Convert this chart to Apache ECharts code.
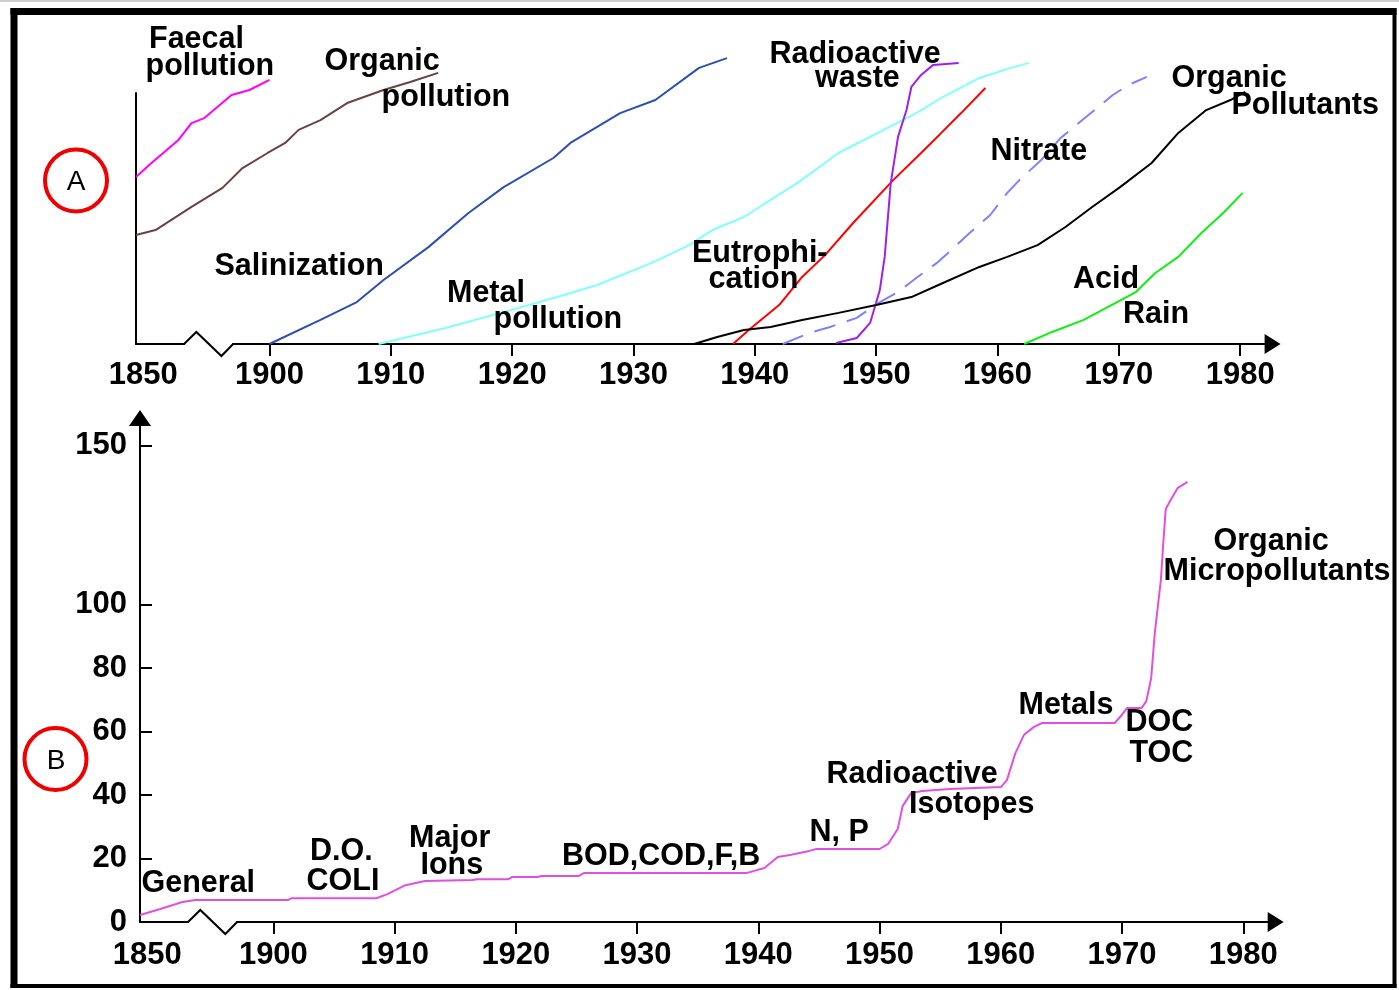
<!DOCTYPE html>
<html><head><meta charset="utf-8">
<script src="https://cdn.jsdelivr.net/npm/echarts@6.0.0/dist/echarts.min.js"></script>
<style>html,body{margin:0;padding:0;background:#fff}#c{width:1399px;height:990px}</style>
</head><body><div id="c"></div>
<script>
// ---------- data (years, relative level) ----------
const tickYears = [1850, 1900, 1910, 1920, 1930, 1940, 1950, 1960, 1970, 1980];
const bTickValues = [0, 20, 40, 60, 80, 100, 150];

// Panel A : problems (relative, unitless)
const faecal = [[1850,66.5],[1855.8,72.1],[1865.9,81.3],[1870.8,88],[1875.6,90],[1885.8,99.2],[1892.5,101.2],[1900,105.2]];
const organicPollution = [[1850,43.4],[1857.3,45.4],[1870.8,54.6],[1882.4,62.2],[1889.9,70.1],[1899.3,76.1],[1901.3,80.1],[1902.4,85.3],[1904.2,89.2],[1906.4,96],[1909.4,101.2],[1911.6,104.4],[1913.9,108]];
const salinization = [[1900,0],[1904.2,9.6],[1907.2,16.7],[1909.4,25.5],[1913.1,38.6],[1916.4,52.2],[1919.3,62.5],[1923.4,74.1],[1924.8,80.1],[1928.9,92],[1931.8,97.2],[1935.4,110],[1937.7,113.9]];
const metalPollution = [[1909,0],[1914.5,6.4],[1919.3,12.7],[1923.7,18.7],[1927,23.5],[1931.5,32.3],[1934.6,39.4],[1936.5,45.4],[1939.1,50.6],[1941.3,57.4],[1943.6,64.5],[1946.9,76.1],[1950.3,84.5],[1953.3,92],[1955.5,98.4],[1958.5,106],[1961.1,110],[1962.6,112]];
const eutrophication = [[1938.2,0],[1939.5,5.6],[1942,15.5],[1943.9,26.7],[1945.8,35.5],[1948.1,48.2],[1951.4,65.3],[1953.7,76.1],[1955.2,83.3],[1957,92],[1959,102]];
const radioactiveWaste = [[1946.7,0.4],[1948.4,2.4],[1949.5,8.4],[1950.3,21.5],[1950.7,34.7],[1951.2,64.1],[1951.8,82.5],[1952.5,93.2],[1952.9,102.4],[1953.7,107.2],[1954.7,111.2],[1956.8,112]];
const nitrate = [[1942.3,0],[1944.5,4.4],[1946.2,6.8],[1948.4,10.4],[1950.3,16.7],[1951.8,20.7],[1953.3,26.3],[1955,32.3],[1956.2,37.5],[1957.7,44.2],[1959.4,51.4],[1960.8,60.2],[1961.8,65.3],[1963.6,73.3],[1965.2,82.1],[1966.5,87.3],[1967.8,92.4],[1969.5,99.2],[1970.8,103.2],[1972.3,106.4]];
const organicPollutants = [[1935,0],[1936.9,2.8],[1939.1,5.6],[1941.3,6.8],[1943.9,9.6],[1946.9,12.4],[1950,15.5],[1952.9,18.7],[1955.5,24.3],[1958.5,30.7],[1960.8,34.7],[1963.3,39.4],[1965.6,46.6],[1967.8,54.6],[1970.1,62.5],[1972.7,72.1],[1974.9,84.1],[1977.2,93.2],[1979.2,97.2],[1980.4,100.4]];
const acidRain = [[1962.2,0],[1964.5,4.8],[1967.1,9.6],[1969.7,16.3],[1971.4,20.7],[1973,28.3],[1974.9,34.7],[1976.8,44.2],[1978.6,52.2],[1980.2,60.2]];

// Panel B : number of parameters
const parameters = [[1850,2.2],[1857.6,4.1],[1865.9,6.3],[1870.8,6.9],[1901.2,6.9],[1901.5,7.5],[1908.5,7.5],[1909.4,8.8],[1910.9,11.6],[1912.5,12.9],[1916.4,13.2],[1916.8,13.5],[1919.4,13.5],[1919.7,14.2],[1921.8,14.2],[1922.1,14.5],[1925.2,14.5],[1925.6,15.4],[1939,15.4],[1940.5,17],[1941.6,20.5],[1942.6,21.1],[1944.2,22.4],[1944.8,23],[1950,23],[1950.7,24.6],[1951.5,29.3],[1951.9,36.5],[1952.6,40.6],[1953.5,41.3],[1955.8,41.9],[1960,42.5],[1960.5,44.7],[1961.2,53.2],[1961.9,58.9],[1962.7,61.4],[1963.4,62.7],[1969.4,62.7],[1969.9,64.9],[1970.4,67.4],[1971.6,67.4],[1972,69.6],[1972.4,76.9],[1972.7,91.1],[1973.2,107.8],[1973.4,119.4],[1973.6,130.1],[1974.1,133.6],[1974.6,136.8],[1975.4,138.7]];

// ---------- broken time axis: 1850-1900 compressed ----------
const BREAK_SCALE = 0.22;
function pos(year) { return year >= 1900 ? year : 1900 - (1900 - year) * BREAK_SCALE; }

// ---------- annotations (layout) ----------
const labelsA = [
  ['Faecal',149,39.5],['pollution',145.5,66.5],['Organic',324.5,61.5],['pollution',381.5,98],
  ['Salinization',214.5,267],['Metal',447,293.5],['pollution',493.5,319.5],
  ['Radioactive',769.5,54.5],['waste',815,79],['Eutrophi-',692,253.5],['cation',708.5,279.5],
  ['Nitrate',990.5,152],['Organic',1171.5,79],['Pollutants',1231.5,106],['Acid',1073,280],['Rain',1123,314.5]
];
const labelsB = [
  ['General',141.5,884],['D.O.',310,852],['COLI',306.5,882],['Major',409,838.7],['Ions',420.5,866],
  ['BOD,COD,F,B',562,857],['N, P',809.5,833],['Radioactive',826.5,774.5],['Isotopes',909,804.5],
  ['Metals',1018.5,705.3],['DOC',1125.5,722.5],['TOC',1129.5,753.5],['Organic',1213.5,542],['Micropollutants',1163.5,572]
];

const FONT = 'Liberation Sans';
const axisText = {color:'#000', fontFamily:FONT, fontWeight:'bold', fontSize:31};
const X_MAX = 1982.67;

function xAxisFor(gridIndex, margin) {
  return {
    type:'value', gridIndex, min:pos(1850), max:X_MAX,
    axisLine:{show:true, onZero:false, lineStyle:{color:'#000', width:2}, symbol:['none','triangle'], symbolSize:[20,16]},
    axisTick:{show:true, customValues:tickYears.filter(y => y >= 1900), length:12, lineStyle:{color:'#000', width:2}},
    axisLabel:{show:true, customValues:tickYears.map(y => y < 1900 ? pos(y) + 0.6 : y),
      formatter:v => v < 1900 ? '1850' : String(Math.round(v)), margin, ...axisText},
    splitLine:{show:false}
  };
}

function lineSeries(name, data, color, grid, extra) {
  return {
    type:'line', name, xAxisIndex:grid, yAxisIndex:grid,
    data:data.map(([y, v]) => [pos(y), v]),
    showSymbol:false, symbol:'none', clip:false, silent:true, smooth:false,
    lineStyle:Object.assign({color, width:2}, extra || {}), z:3
  };
}

const chart = echarts.init(document.getElementById('c'), null, {renderer:'canvas'});
chart.setOption({
  animation:false,
  backgroundColor:'#fff',
  grid:[
    {left:136, top:93, width:1136.6, height:251, outerBoundsMode:'none', containLabel:false},
    {left:140, top:418, width:1135.7, height:504, outerBoundsMode:'none', containLabel:false}
  ],
  xAxis:[xAxisFor(0, 15.5), xAxisFor(1, 17.5)],
  yAxis:[
    {type:'value', gridIndex:0, min:0, max:100, axisLine:{show:true, onZero:false, lineStyle:{color:'#000', width:2}},
     axisTick:{show:false}, axisLabel:{show:false}, splitLine:{show:false}},
    {type:'value', gridIndex:1, min:0, max:158.8,
     axisLine:{show:true, onZero:false, lineStyle:{color:'#000', width:2}, symbol:['none','triangle'], symbolSize:[22,16]},
     axisTick:{show:true, inside:true, length:12, customValues:bTickValues.filter(v => v > 0), lineStyle:{color:'#000', width:2}},
     axisLabel:{show:true, customValues:bTickValues, margin:13, ...axisText},
     splitLine:{show:false}}
  ],
  series:[
    lineSeries('Faecal pollution', faecal, '#ff00ff', 0),
    lineSeries('Organic pollution', organicPollution, '#6b4242', 0),
    lineSeries('Salinization', salinization, '#2c50b0', 0),
    lineSeries('Metal pollution', metalPollution, '#80ffff', 0),
    lineSeries('Eutrophication', eutrophication, '#ff0000', 0),
    lineSeries('Radioactive waste', radioactiveWaste, '#a020e8', 0),
    lineSeries('Nitrate', nitrate, '#8080ff', 0, {type:[22,12]}),
    lineSeries('Organic Pollutants', organicPollutants, '#000000', 0),
    lineSeries('Acid Rain', acidRain, '#10f010', 0),
    lineSeries('Parameters', parameters, '#e050e0', 1)
  ]
});

function zigzag(gridIndex) {
  const p0 = chart.convertToPixel({gridIndex}, [pos(1868), 0]);
  const x1 = chart.convertToPixel({gridIndex}, [pos(1872.6), 0])[0];
  const x2 = chart.convertToPixel({gridIndex}, [pos(1882), 0])[0];
  const x3 = chart.convertToPixel({gridIndex}, [pos(1886.4), 0])[0];
  const y0 = p0[1], x0 = p0[0];
  return [
    {type:'line', shape:{x1:x0 + 1, y1:y0, x2:x3 - 1, y2:y0}, style:{stroke:'#fff', lineWidth:6}, z:50},
    {type:'polyline', shape:{points:[[x0, y0], [x1, y0 - 12], [x2, y0 + 12], [x3, y0]]}, style:{stroke:'#000', lineWidth:2, fill:null}, z:51}
  ];
}

const textEl = ([t, x, y]) => ({type:'text', x, y, z:60,
  style:{text:t, font:'bold 30.5px "' + FONT + '"', fill:'#000', align:'left', verticalAlign:'middle'}});

const graphics = [
  {type:'line', shape:{x1:0, y1:1, x2:1399, y2:1}, style:{stroke:'#cfcfcf', lineWidth:2}, z:40},
  {type:'line', shape:{x1:10.5, y1:11.5, x2:1396.5, y2:11.5}, style:{stroke:'#000', lineWidth:7}, z:40},
  {type:'line', shape:{x1:14, y1:8, x2:14, y2:988}, style:{stroke:'#000', lineWidth:7}, z:40},
  {type:'line', shape:{x1:1394.5, y1:8, x2:1394.5, y2:988}, style:{stroke:'#000', lineWidth:4}, z:40},
  {type:'line', shape:{x1:10.5, y1:986, x2:1396.5, y2:986}, style:{stroke:'#000', lineWidth:4}, z:40},
  {type:'circle', shape:{cx:76, cy:180.5, r:31}, style:{fill:null, stroke:'#f00000', lineWidth:4}, z:40},
  {type:'circle', shape:{cx:55.5, cy:759, r:31}, style:{fill:null, stroke:'#f00000', lineWidth:4}, z:40},
  {type:'text', x:76, y:182, z:41, style:{text:'A', font:'28px "' + FONT + '"', fill:'#000', align:'center', verticalAlign:'middle'}},
  {type:'text', x:56, y:761, z:41, style:{text:'B', font:'28px "' + FONT + '"', fill:'#000', align:'center', verticalAlign:'middle'}}
].concat(zigzag(0), zigzag(1), labelsA.map(textEl), labelsB.map(textEl));

chart.setOption({graphic:{elements:graphics}});
</script>
</body></html>
